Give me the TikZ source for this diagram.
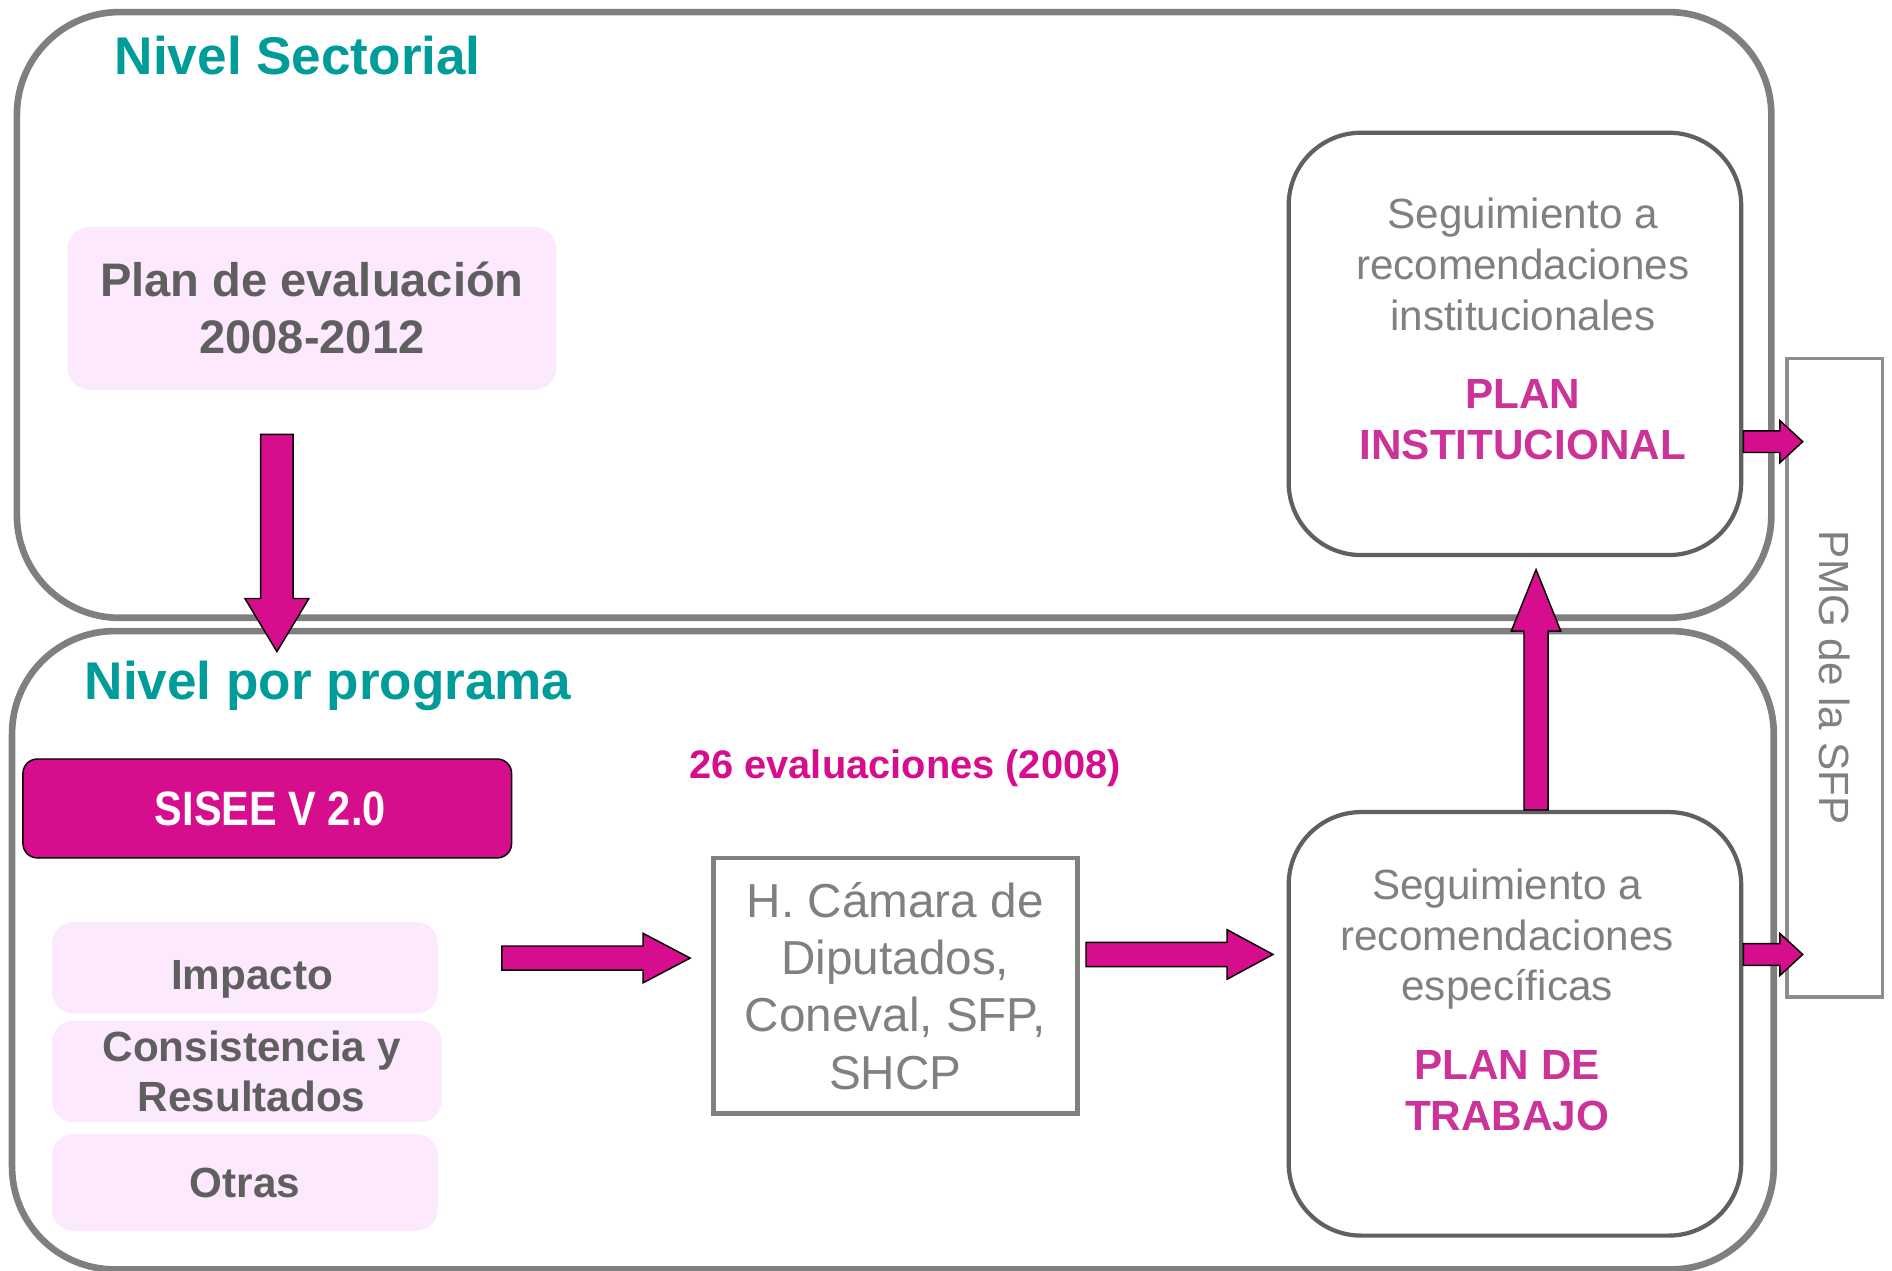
\documentclass[tikz,border=0pt]{standalone}
\usepackage{fontspec}
\setmainfont{Liberation Sans}
\usetikzlibrary{calc}
\definecolor{outergray}{HTML}{7F7F7F}
\definecolor{boxgray}{HTML}{606060}
\definecolor{txtdark}{HTML}{5F5F5F}
\definecolor{txtgray}{HTML}{808080}
\definecolor{pinkfill}{HTML}{FDE9FD}
\definecolor{mag}{HTML}{D60D8C}
\definecolor{magtxt}{HTML}{CC3399}
\definecolor{tealc}{HTML}{009C99}
\newcommand\myfs[2]{\fontsize{#1}{#2}\selectfont}
\newcommand\blockarrow[5]{%
  \coordinate (ba-h) at ($(#2)!#5!(#1)$);
  \draw[barrow] ($(#1)!#3!90:(#2)$) -- ($(ba-h)!#3!-90:(#1)$) -- ($(ba-h)!#4!-90:(#1)$) -- (#2)
     -- ($(ba-h)!#4!90:(#1)$) -- ($(ba-h)!#3!90:(#1)$) -- ($(#1)!#3!-90:(#2)$) -- cycle;
}
\begin{document}
\begin{tikzpicture}[x=1pt,y=-1pt,
  outer/.style={draw=outergray, line width=5.5pt, rounded corners=85pt},
  pinkbox/.style={fill=pinkfill, rounded corners=18pt, text=txtdark, font=\bfseries\myfs{35}{42}, align=center},
  segbox/.style={draw=boxgray, line width=3.5pt, rounded corners=60pt},
  segtxt/.style={text=txtgray, font=\myfs{35}{42}, align=center, inner sep=0pt, anchor=north},
  title/.style={text=tealc, font=\bfseries\myfs{44}{53}, anchor=base west, inner sep=0pt},
  barrow/.style={fill=mag, draw=black, line width=1.2pt, line join=miter}]
\useasboundingbox (0,0) rectangle (1568,1053);

% outer level boxes
\node[outer, minimum width=1454pt, minimum height=502pt] (sect) at (741,261) {};
\node[outer, minimum width=1460pt, minimum height=529pt] (prog) at (740,787.5) {};
\node[title] (tsect) at (95,62) {Nivel Sectorial};
\node[title] (tprog) at (70,580) {Nivel por programa};

% sectorial content
\node[pinkbox, minimum width=405pt, minimum height=135pt, font=\bfseries\myfs{39}{47}] (plan) at (258.5,255.5) {Plan de evaluación\\2008-2012};

% program content
\node[fill=mag, draw=black, line width=1.2pt, rounded corners=12pt, minimum width=405pt, minimum height=82pt,
      text=white, font=\bfseries\myfs{40}{46}\addfontfeature{FakeStretch=0.86}] (sisee) at (221.5,670) {\hspace*{5pt}SISEE V 2.0};
\node[text=mag, font=\bfseries\myfs{33}{40}, anchor=base west, inner sep=0pt] (ev) at (571,645) {26 evaluaciones (2008)};
\node[pinkbox, minimum width=320pt, minimum height=76pt, text height=36pt, text depth=0pt] (imp) at (203,802) {\hspace*{12pt}Impacto};
\node[pinkbox, minimum width=323pt, minimum height=84pt] (cons) at (204.5,888) {\hspace*{8pt}Consistencia y\\\hspace*{8pt}Resultados};
\node[pinkbox, minimum width=320pt, minimum height=80pt] (otr) at (203,980) {Otras};

\node[draw=txtgray, line width=4pt, minimum width=302pt, minimum height=212pt, text=txtgray,
      font=\myfs{39.5}{47.5}, align=center] (cam) at (742,817) {H. Cámara de\\Diputados,\\Coneval, SFP,\\SHCP};

% seguimiento boxes
\node[segbox, minimum width=375pt, minimum height=350pt] (seg1) at (1255.5,285) {};
\node[segtxt] (seg1t) at (1262,164) {Seguimiento a\\recomendaciones\\institucionales\\[23pt]\textcolor{magtxt}{\bfseries PLAN}\\\textcolor{magtxt}{\bfseries INSTITUCIONAL}};
\node[segbox, minimum width=375pt, minimum height=351pt] (seg2) at (1255.5,848.5) {};
\node[segtxt] (seg2t) at (1249,720) {Seguimiento a\\recomendaciones\\específicas\\[23pt]\textcolor{magtxt}{\bfseries PLAN DE}\\\textcolor{magtxt}{\bfseries TRABAJO}};

% PMG box
\node[draw=txtgray!90, line width=3pt, rotate=-90, minimum width=529pt, minimum height=79pt, inner sep=0pt,
      text=txtgray, font=\myfs{35}{42}] (pmg) at (1520.5,561.5) {PMG de la SFP};

% connectors
\coordinate (a1s) at (229.5,360);
\coordinate (a1e) at (229.5,540);
\blockarrow{a1s}{a1e}{13.5pt}{26.5pt}{44pt}
\coordinate (a2s) at (416,794);
\coordinate (a2e) at (572,794);
\blockarrow{a2s}{a2e}{10pt}{20.5pt}{39pt}
\coordinate (a3s) at (900,791);
\coordinate (a3e) at (1055,791);
\blockarrow{a3s}{a3e}{10pt}{20.5pt}{38pt}
\coordinate (a4s) at (seg2.north -| 1273,0);
\coordinate (a4e) at (1273,472);
\blockarrow{a4s}{a4e}{10pt}{20.5pt}{51pt}
\coordinate (a5s) at (seg1.east |- 0,366);
\coordinate (a5e) at (1494,366);
\blockarrow{a5s}{a5e}{9pt}{17.5pt}{19pt}
\coordinate (a6s) at (seg2.east |- 0,791);
\coordinate (a6e) at (1494,791);
\blockarrow{a6s}{a6e}{9pt}{17.5pt}{19pt}
\end{tikzpicture}
\end{document}
